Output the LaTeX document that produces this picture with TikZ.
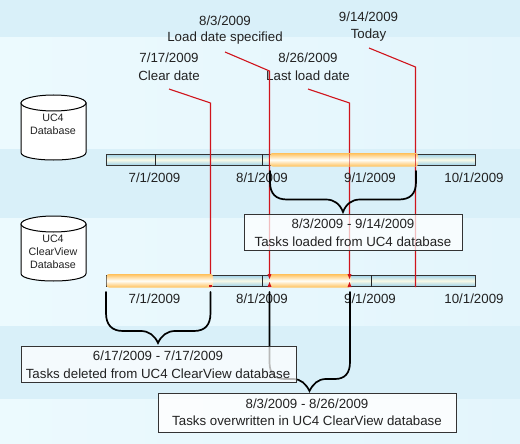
\documentclass[tikz,border=0pt]{standalone}
\usepackage{fontspec}
\setmainfont{Liberation Sans}
\definecolor{bandd}{HTML}{D9F0F9}
\definecolor{bandl}{HTML}{ECFAFE}
\definecolor{bandm}{HTML}{E3F5FC}
\definecolor{redl}{HTML}{D0141C}
\definecolor{barm}{HTML}{FAFAE6}
\definecolor{bare}{HTML}{9AD0EA}
\definecolor{orgm}{HTML}{FFFEF8}
\definecolor{orge}{HTML}{FFC059}
\definecolor{txt}{HTML}{222222}
\tikzset{
 x=1pt,y=-1pt,
 lbl/.style={font=\fontsize{13.3}{15}\selectfont,text=txt,inner sep=0pt,anchor=center},
 dbl/.style={font=\fontsize{10.7}{12}\selectfont,text=txt,inner sep=0pt,anchor=center},
 redline/.style={draw=redl,line width=1.1pt,line join=miter},
 bartrack/.style={draw=black!80,line width=0.8pt},
 tickl/.style={draw=black!85,line width=0.9pt},
 bracel/.style={draw=black,line width=1.7pt,line cap=round},
 boxw/.style={draw=black!80,line width=1pt,fill=white,fill opacity=0.72},
 tip/.style={fill=redl,draw=none},
 cyl/.style={draw=black,line width=1pt,fill=white}
}
\newcommand{\band}[4]{\fill[left color=#3,right color=#4] (0,#1) rectangle (520,#2);}
\newcommand{\barbody}[1]{\shade[top color=bare,bottom color=bare,middle color=barm] (106,#1) rectangle (475,#1+11.5);}
\newcommand{\orgbar}[3]{\shade[rounded corners=2.5pt,top color=orge,bottom color=orge,middle color=orgm] (#1,#3-1) rectangle (#2,#3+12.5);}
\newcommand{\dbcyl}[2]{\path[cyl] (21,#1) -- (21,#2) .. controls (21,#2+10) and (86,#2+10) .. (86,#2) -- (86,#1) -- cycle;\path[cyl] (53.5,#1) ellipse [x radius=32.5,y radius=8];}
\begin{document}
\begin{tikzpicture}
\useasboundingbox (0,0) rectangle (520,444);
\band{0}{38}{bandd}{bandd}
\band{38}{149}{bandl}{bandm}
\band{149}{218}{bandd}{bandd}
\band{218}{326}{bandl}{bandm}
\band{326}{399}{bandd}{bandd}
\band{399}{444}{bandl}{bandm}

% databases
\dbcyl{103}{152.5}
\node[dbl] (db1a) at (53,118) {UC4};
\node[dbl] (db1b) at (53,131) {Database};
\dbcyl{224}{273.5}
\node[dbl] (db2a) at (53,239) {UC4};
\node[dbl] (db2b) at (53,252) {ClearView};
\node[dbl] (db2c) at (53,265) {Database};

% date labels
\node[lbl] (d1a) at (225,21) {8/3/2009};
\node[lbl] (d1b) at (225,38.5) {Load date specified};
\node[lbl] (d2a) at (169,58) {7/17/2009};
\node[lbl] (d2b) at (169,75.5) {Clear date};
\node[lbl] (d3a) at (308,58) {8/26/2009};
\node[lbl] (d3b) at (308,75.5) {Last load date};
\node[lbl] (d4a) at (368.5,17) {9/14/2009};
\node[lbl] (d4b) at (368.5,35) {Today};

% bars
\barbody{154}
\barbody{275}
\draw[bartrack] (106,154) rectangle (475,165.5);
\draw[bartrack] (106,275) rectangle (475,286.5);
\foreach \x in {155,262}{\draw[tickl] (\x,154) -- (\x,165.5);}
\foreach \x in {155,262,371}{\draw[tickl] (\x,275) -- (\x,286.5);}

% red leader lines
\coordinate (r1s) at (169,89); \coordinate (r1k) at (210.5,103); \coordinate (r1e) at (210.5,287);
\coordinate (r2s) at (225,52); \coordinate (r2k) at (269.5,71); \coordinate (r2e) at (269.5,276);
\coordinate (r3s) at (308,89); \coordinate (r3k) at (349.5,103); \coordinate (r3e) at (349.5,276);
\coordinate (r4s) at (369,48); \coordinate (r4k) at (415.5,67); \coordinate (r4e) at (415.5,287);
\draw[redline] (r1s) -- (r1k) -- (r1e);
\draw[redline] (r2s) -- (r2k) -- (r2e);
\draw[redline] (r3s) -- (r3k) -- (r3e);
\draw[redline] (r4s) -- (r4k) -- (r4e);

% highlighted ranges
\orgbar{270}{418}{154}
\orgbar{106.5}{213}{275}
\orgbar{270}{351}{275}
\draw[redl,opacity=.45,line width=0.9pt] (r3k |- 0,154) -- (r3k |- 0,166);
\draw[redl,opacity=.7,line width=0.9pt] (r2k |- 0,154) -- (r2k |- 0,166);
\draw[redl,opacity=.7,line width=0.9pt] (r4k |- 0,154) -- (r4k |- 0,166);
\foreach \x in {269.5,349.5}{
 \fill[tip] (\x-2,274) -- (\x+2,274) -- (\x,279) -- cycle;
 \fill[tip] (\x-2,287) -- (\x+2,287) -- (\x,282) -- cycle;
}
\fill[tip] (208.5,285) rectangle (212,287);

% axis labels
\foreach \n/\x/\y/\t in {a1/154.5/178/7\slash 1\slash 2009,a2/262/178/8\slash 1\slash 2009,a3/370/178/9\slash 1\slash 2009,a4/474/178/10\slash 1\slash 2009,b1/154.5/299/7\slash 1\slash 2009,b2/262/299/8\slash 1\slash 2009,b3/370/299/9\slash 1\slash 2009,b4/474/299/10\slash 1\slash 2009}
 {\node[lbl] (\n) at (\x,\y) {\t};}

% braces
\coordinate (b1l) at (270,171); \coordinate (b1r) at (416,171); \coordinate (b1t) at (343,212);
\draw[bracel] (b1l) -- (270,182) .. controls (270,194) and (276,199.5) .. (287,199.5) -- (326,199.5) .. controls (334,199.5) and (340,204) .. (b1t) .. controls (346,204) and (352,199.5) .. (360,199.5) -- (399,199.5) .. controls (410,199.5) and (416,194) .. (416,182) -- (b1r);
\coordinate (b2l) at (106,292); \coordinate (b2r) at (210.5,292); \coordinate (b2t) at (158,343);
\draw[bracel] (b2l) -- (106,313) .. controls (106,325) and (112,331) .. (123,331) -- (141,331) .. controls (149,331) and (155,336) .. (b2t) .. controls (161,336) and (167,331) .. (175,331) -- (194,331) .. controls (205,331) and (210.5,325) .. (210.5,313) -- (b2r);
\coordinate (b3l) at (269.5,292); \coordinate (b3r) at (350,292); \coordinate (b3t) at (309.5,391);
\draw[bracel] (b3l) -- (269.5,362) .. controls (269.5,373) and (274,379) .. (285,379) -- (293,379) .. controls (301,379) and (306,384) .. (b3t) .. controls (313,384) and (318,379) .. (326,379) -- (335,379) .. controls (345,379) and (350,373) .. (350,362) -- (b3r);

% text boxes
\path[boxw] (244,214) rectangle (462,250);
\node[lbl] (t1a) at (353,224) {8/3/2009 - 9/14/2009};
\node[lbl] (t1b) at (353,241.5) {Tasks loaded from UC4 database};
\path[boxw] (21,346) rectangle (296,382);
\node[lbl] (t2a) at (158,356) {6/17/2009 - 7/17/2009};
\node[lbl] (t2b) at (158,373.5) {Tasks deleted from UC4 ClearView database};
\path[boxw,fill opacity=.82] (158.5,393) rectangle (456,432.5);
\node[lbl] (t3a) at (307,403.5) {8/3/2009 - 8/26/2009};
\node[lbl] (t3b) at (307,421) {Tasks overwritten in UC4 ClearView database};
\end{tikzpicture}
\end{document}
